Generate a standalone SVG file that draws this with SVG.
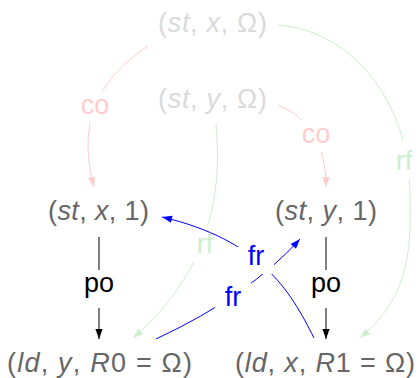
<svg xmlns="http://www.w3.org/2000/svg" width="418" height="378" viewBox="0 0 418 378">
<style>
text{font-family:"Liberation Sans",Arial,sans-serif;font-size:27px}
.i{font-style:italic}
.faint{fill:#dadada}
.mid{fill:#666}
.e{fill:none;stroke-width:1}
.co{stroke:#ffcccc}
.rf{stroke:#ccefcc}
.po{stroke:#000}
.fr{stroke:#0000ff}
.lbl{text-anchor:middle}
.bg{fill:#fff}
</style>
<defs>
<marker id="aco" markerUnits="userSpaceOnUse" markerWidth="12" markerHeight="10" viewBox="-11 -5 12 10" refX="0" refY="0" orient="auto"><path d="M-10,-3.6 L0,0 L-10,3.6 Z" fill="#ffcccc"/></marker>
<marker id="arf" markerUnits="userSpaceOnUse" markerWidth="12" markerHeight="10" viewBox="-11 -5 12 10" refX="0" refY="0" orient="auto"><path d="M-10,-3.6 L0,0 L-10,3.6 Z" fill="#ccefcc"/></marker>
<marker id="apo" markerUnits="userSpaceOnUse" markerWidth="12" markerHeight="10" viewBox="-11 -5 12 10" refX="0" refY="0" orient="auto"><path d="M-10,-3.6 L0,0 L-10,3.6 Z" fill="#000"/></marker>
<marker id="afr" markerUnits="userSpaceOnUse" markerWidth="12" markerHeight="10" viewBox="-11 -5 12 10" refX="0" refY="0" orient="auto"><path d="M-10,-3.6 L0,0 L-10,3.6 Z" fill="#0000ff"/></marker>
</defs>
<g id="connectors">
<g id="co1"><path class="e co" d="M148,46 C100,78 76,120 94,187" marker-end="url(#aco)"/><rect class="bg" x="72" y="91" width="46" height="32"/><text class="lbl" x="95" y="114" fill="#ffcccc">co</text></g>
<g id="co2"><path class="e co" d="M278,105 C310,118 326,145 326,187" marker-end="url(#aco)"/><rect class="bg" x="293" y="120" width="46" height="32"/><text class="lbl" x="316" y="143" fill="#ffcccc">co</text></g>
<g id="rf1"><path class="e rf" d="M278,25 C350,30 410,100 410,195 C412,260 405,300 360,338" marker-end="url(#arf)"/><rect class="bg" x="387" y="141" width="34" height="38"/><text class="lbl" x="404" y="170" fill="#ccefcc">rf</text></g>
<g id="rf2"><path class="e rf" d="M216,124 C224,210 200,280 133,338" marker-end="url(#arf)"/><rect class="bg" x="188" y="224" width="34" height="38"/><text class="lbl" x="205" y="253" fill="#ccefcc">rf</text></g>
<g id="po1"><path class="e po" d="M99,237 L99,339" marker-end="url(#apo)"/><rect class="bg" x="75" y="270" width="48" height="38"/><text class="lbl" x="99" y="292" fill="#000">po</text></g>
<g id="po2"><path class="e po" d="M326,237 L326,339" marker-end="url(#apo)"/><rect class="bg" x="302" y="270" width="48" height="38"/><text class="lbl" x="326" y="292" fill="#000">po</text></g>
<g id="fr1"><path class="e fr" d="M156,339 Q250,295 300,239" marker-end="url(#afr)"/><rect class="bg" x="215" y="277" width="36" height="38"/><text class="lbl" x="233" y="306" fill="#0000ff">fr</text></g>
<g id="fr2"><path class="e fr" d="M314,338 C290,290 260,240 162,217" marker-end="url(#afr)"/><rect class="bg" x="238" y="236" width="36" height="38"/><text class="lbl" x="256" y="265" fill="#0000ff">fr</text></g>
</g>
<g id="n_stxO"><text class="faint" x="158" y="32" textLength="109" lengthAdjust="spacing">(<tspan class="i">st</tspan>, <tspan class="i">x</tspan>, Ω)</text></g>
<g id="n_styO"><text class="faint" x="158" y="108" textLength="109" lengthAdjust="spacing">(<tspan class="i">st</tspan>, <tspan class="i">y</tspan>, Ω)</text></g>
<g id="n_stx1"><text class="mid" x="48" y="220" textLength="101" lengthAdjust="spacing">(<tspan class="i">st</tspan>, <tspan class="i">x</tspan>, 1)</text></g>
<g id="n_sty1"><text class="mid" x="275" y="220" textLength="102" lengthAdjust="spacing">(<tspan class="i">st</tspan>, <tspan class="i">y</tspan>, 1)</text></g>
<g id="n_ldy"><text class="mid" x="7" y="372" textLength="185" lengthAdjust="spacing">(<tspan class="i">ld</tspan>, <tspan class="i">y</tspan>, <tspan class="i">R</tspan>0 = Ω)</text></g>
<g id="n_ldx"><text class="mid" x="235" y="372" textLength="180" lengthAdjust="spacing">(<tspan class="i">ld</tspan>, <tspan class="i">x</tspan>, <tspan class="i">R</tspan>1 = Ω)</text></g>
</svg>
